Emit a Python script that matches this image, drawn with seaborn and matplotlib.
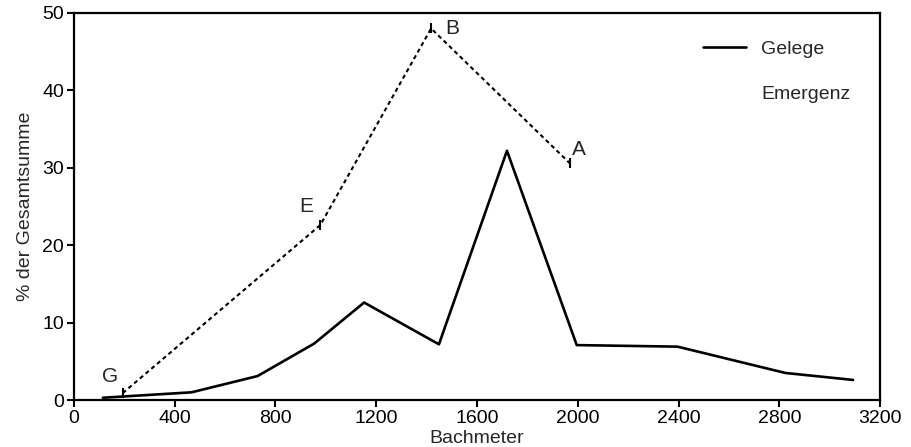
import matplotlib
matplotlib.use("Agg")
import matplotlib.pyplot as plt
import seaborn as sns
import pandas as pd
from matplotlib.lines import Line2D

# Data
gelege_x = [115, 467, 729, 954, 1152, 1449, 1719, 1996, 2396, 2824, 3093]
gelege_y = [0.3, 1.0, 3.1, 7.3, 12.6, 7.2, 32.2, 7.1, 6.9, 3.5, 2.6]

emergenz_x = [194, 978, 1418, 1968]
emergenz_y = [0.9, 22.6, 48.0, 30.6]
emergenz_labels = ["G", "E", "B", "A"]

x_ticks = [0, 400, 800, 1200, 1600, 2000, 2400, 2800, 3200]
y_ticks = [0, 10, 20, 30, 40, 50]

sns.set_style("ticks")
plt.rcParams["font.family"] = ["Liberation Sans", "DejaVu Sans"]

df_g = pd.DataFrame({"Bachmeter": gelege_x, "Prozent": gelege_y})
df_e = pd.DataFrame({"Bachmeter": emergenz_x, "Prozent": emergenz_y})

fig = plt.figure(figsize=(9.12, 4.47), dpi=100)
ax = fig.add_axes([0.081, 0.105, 0.884, 0.866])

sns.lineplot(data=df_g, x="Bachmeter", y="Prozent", ax=ax, color="black",
             linewidth=1.9, estimator=None, sort=False)
sns.lineplot(data=df_e, x="Bachmeter", y="Prozent", ax=ax, color="black",
             linewidth=1.5, linestyle=(0, (2, 1.6)), estimator=None, sort=False,
             marker="|", markersize=7, markeredgewidth=1.5,
             markeredgecolor="black")

label_offsets = {"G": (-51, 2.1), "E": (-55, 2.4), "B": (85, 0.0), "A": (35, 1.7)}
for lx, ly, lab in zip(emergenz_x, emergenz_y, emergenz_labels):
    dx, dy = label_offsets[lab]
    ax.text(lx + dx, ly + dy, lab, fontsize=15, ha="center", va="center")

ax.set_xlim(0, 3200)
ax.set_ylim(0, 50)
ax.set_xticks(x_ticks)
ax.set_yticks(y_ticks)
ax.tick_params(axis="both", labelsize=14, length=5, width=1.5, direction="out",
               colors="black", pad=2)
for s in ax.spines.values():
    s.set_linewidth(1.6)
    s.set_color("black")

ax.set_xlabel("Bachmeter", fontsize=14, labelpad=2)
ax.set_ylabel("% der Gesamtsumme", fontsize=14, labelpad=6)

handles = [Line2D([0], [0], color="black", linewidth=1.9),
           Line2D([0], [0], color="none", linewidth=0)]
ax.legend(handles, ["Gelege", "Emergenz"], loc="upper right",
          bbox_to_anchor=(0.985, 0.975), frameon=False, fontsize=14,
          handlelength=2.2, labelspacing=1.4)

fig.savefig("out.png", dpi=100)
